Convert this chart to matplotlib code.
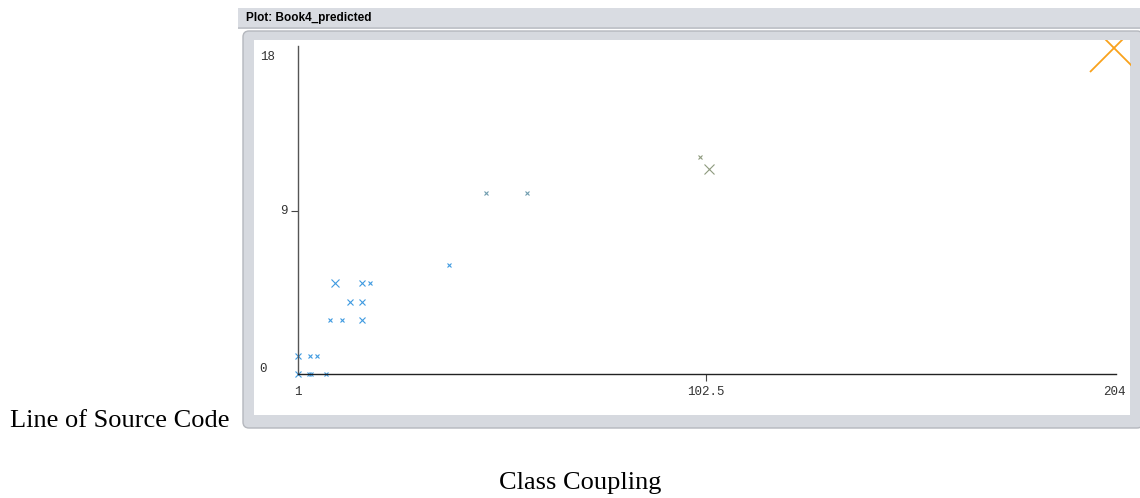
import matplotlib.pyplot as plt
from matplotlib.patches import Rectangle, FancyBboxPatch

# predicted points
coupling = [1, 3.8, 4.2, 8, 1, 4, 5.6, 9, 11.9, 16.9, 13.9, 16.9, 10.2, 16.9, 18.9,
            38.6, 47.8, 58, 101, 103.2, 204]
loc = [0, 0, 0, 0, 1, 1, 1, 3, 3, 3, 4, 4, 5, 5, 5,
       6, 10, 10, 12, 11.3, 18]
sizes = [4.3, 2.5, 2.5, 2.4, 4.3, 2.8, 2.5, 2.4, 2.8, 4.3, 4.3, 4.3, 6.0, 4.3, 2.8,
         2.5, 2.5, 2.5, 3.5, 7.5, 34]
colors = ['#3f9ae0'] * 16 + ['#6f9cae', '#6f9cae', '#8e9a7e', '#8e9a7e', '#f9a21c']

x_ticks = [1, 102.5, 204]
x_labels = ['1', '102.5', '204']
y_labels = ['0', '9', '18']

W, H = 1140, 498
fig = plt.figure(figsize=(W / 100, H / 100), dpi=100)


def box(x0, y0, x1, y1):
    # pixel box (top-left origin) -> figure fraction
    return [x0 / W, 1 - y1 / H, (x1 - x0) / W, (y1 - y0) / H]


# window frame
bg = fig.add_axes([0, 0, 1, 1])
bg.set_xlim(0, W)
bg.set_ylim(H, 0)
bg.axis('off')
bg.add_patch(Rectangle((238, 8), 902, 20, facecolor='#d9dce2', edgecolor='none'))
bg.add_patch(Rectangle((238, 27), 902, 1.5, facecolor='#c2c5cb', edgecolor='none'))
bg.add_patch(FancyBboxPatch((243, 31), 900, 397, boxstyle='round,pad=0,rounding_size=6',
                            facecolor='#d6d9df', edgecolor='#b4b7bd', linewidth=1.0))
bg.add_patch(Rectangle((254, 40), 876, 375, facecolor='white', edgecolor='none'))
bg.text(246, 18, 'Plot: Book4_predicted', fontsize=8.5, fontweight='bold',
        family='Liberation Sans', va='center', ha='left')
bg.text(10, 421, 'Line of Source Code', fontsize=19, family='Liberation Serif',
        va='center', ha='left')
bg.text(580, 483, 'Class Coupling', fontsize=19, family='Liberation Serif',
        va='center', ha='center')

# plot area
ax = fig.add_axes(box(254, 40, 1130, 415))
ax.patch.set_alpha(0)
ax.set_xlim(-9.95, 207.98)
ax.set_ylim(-2.26, 18.44)
for s in ['top', 'right']:
    ax.spines[s].set_visible(False)
ax.spines['left'].set_position(('data', 1))
ax.spines['bottom'].set_position(('data', 0))
ax.spines['left'].set_bounds(0, 18.1)
ax.spines['bottom'].set_bounds(1, 204.5)
ax.spines['left'].set_color('#555555')
ax.spines['bottom'].set_color('#222222')
ax.spines['left'].set_linewidth(1.0)
ax.spines['bottom'].set_linewidth(1.0)

ax.set_xticks([x_ticks[1]])
ax.set_xticklabels([])
ax.set_yticks([9])
ax.set_yticklabels([])
ax.tick_params(axis='both', direction='out', length=5, width=0.8, color='#444444')

mono = dict(family='Liberation Mono', fontsize=9, color='#333333')
for xv, lab in zip(x_ticks, x_labels):
    ax.text(xv, -1.0, lab, ha='center', va='center', **mono)
ax.text(-7.7, 0.28, y_labels[0], ha='center', va='center', **mono)
ax.text(-2.4, 9.0, y_labels[1], ha='center', va='center', **mono)
ax.text(-6.5, 17.5, y_labels[2], ha='center', va='center', **mono)

for xv, yv, s, c in zip(coupling, loc, sizes, colors):
    ax.plot(xv, yv, marker='x', markersize=s, color=c,
            markeredgewidth=1.3 if s > 20 else 0.8, linestyle='none')

fig.savefig('out.png', dpi=100)
